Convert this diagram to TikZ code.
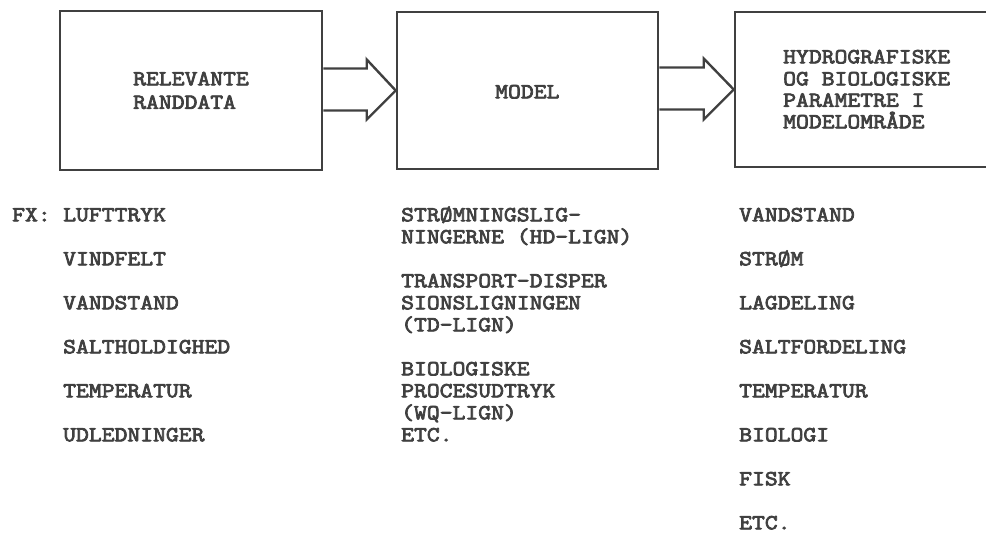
\documentclass[tikz,border=0pt]{standalone}
\usepackage{fontspec}
\newfontfamily\tw{Latin Modern Mono}[FakeBold=3.5, FakeStretch=1.16]
\usetikzlibrary{calc}
\definecolor{ink}{HTML}{404040}
\begin{document}
\begin{tikzpicture}[x=1pt,y=-1pt,
  box/.style={draw=ink, line width=2.6pt, inner sep=0pt, fill=white},
  blockarrow/.style={draw=ink, line width=2.4pt, line join=miter},
  txt/.style={font=\tw\fontsize{21.5}{22}\selectfont, text=ink, inner sep=0pt, anchor=base west}]
\clip (0,0) rectangle (986,534);
% boxes
\node[box, minimum width=262pt, minimum height=159pt] (b1) at (191,90.5) {};
\node[box, minimum width=261pt, minimum height=157pt] (b2) at (527.5,90.5) {};
\node[box, minimum width=262pt, minimum height=155pt] (b3) at (866,89.5) {};
% block arrows
\draw[blockarrow] ($(b1.east)+(0,-22)$) -| ($(b2.west)+(-29,-31)$) -- (b2.west)
  -- ($(b2.west)+(-29,29)$) |- ($(b1.east)+(0,20)$);
\draw[blockarrow] ($(b2.east)+(0,-23)$) -| ($(b3.west)+(-30,-31)$) -- (b3.west)
  -- ($(b3.west)+(-30,30)$) |- ($(b2.east)+(0,19)$);
% box texts
\node[txt] (t1a) at (133,85.3) {RELEVANTE};
\node[txt] (t1b) at (133,108.8) {RANDDATA};
\node[txt] (t2) at (495,98.3) {MODEL};
\node[txt] (t3a) at (783,63.3) {HYDROGRAFISKE};
\node[txt] (t3b) at (783,85.3) {OG BIOLOGISKE};
\node[txt] (t3c) at (783,106.8) {PARAMETRE I};
\node[txt] (t3d) at (783,128.3) {MODELOMRÅDE};
% left list
\node[txt] (fx) at (12,221.3) {FX:};
\foreach \t [count=\k from 0] in {LUFTTRYK,VINDFELT,VANDSTAND,SALTHOLDIGHED,TEMPERATUR,UDLEDNINGER}
  \node[txt] (l\k) at (63,221.3+44*\k) {\t};
% middle list
\foreach \t/\n [count=\k] in {STRØMNINGSLIG-/0,NINGERNE (HD-LIGN)/1,TRANSPORT-DISPER/3,SIONSLIGNINGEN/4,(TD-LIGN)/5,BIOLOGISKE/7,PROCESUDTRYK/8,(WQ-LIGN)/9,ETC./10}
  \node[txt] (m\k) at (401,221.3+22*\n) {\t};
% right list
\foreach \t [count=\k from 0] in {VANDSTAND,STRØM,LAGDELING,SALTFORDELING,TEMPERATUR,BIOLOGI,FISK,ETC.}
  \node[txt] (r\k) at (739,221.3+44*\k) {\t};
\end{tikzpicture}
\end{document}
